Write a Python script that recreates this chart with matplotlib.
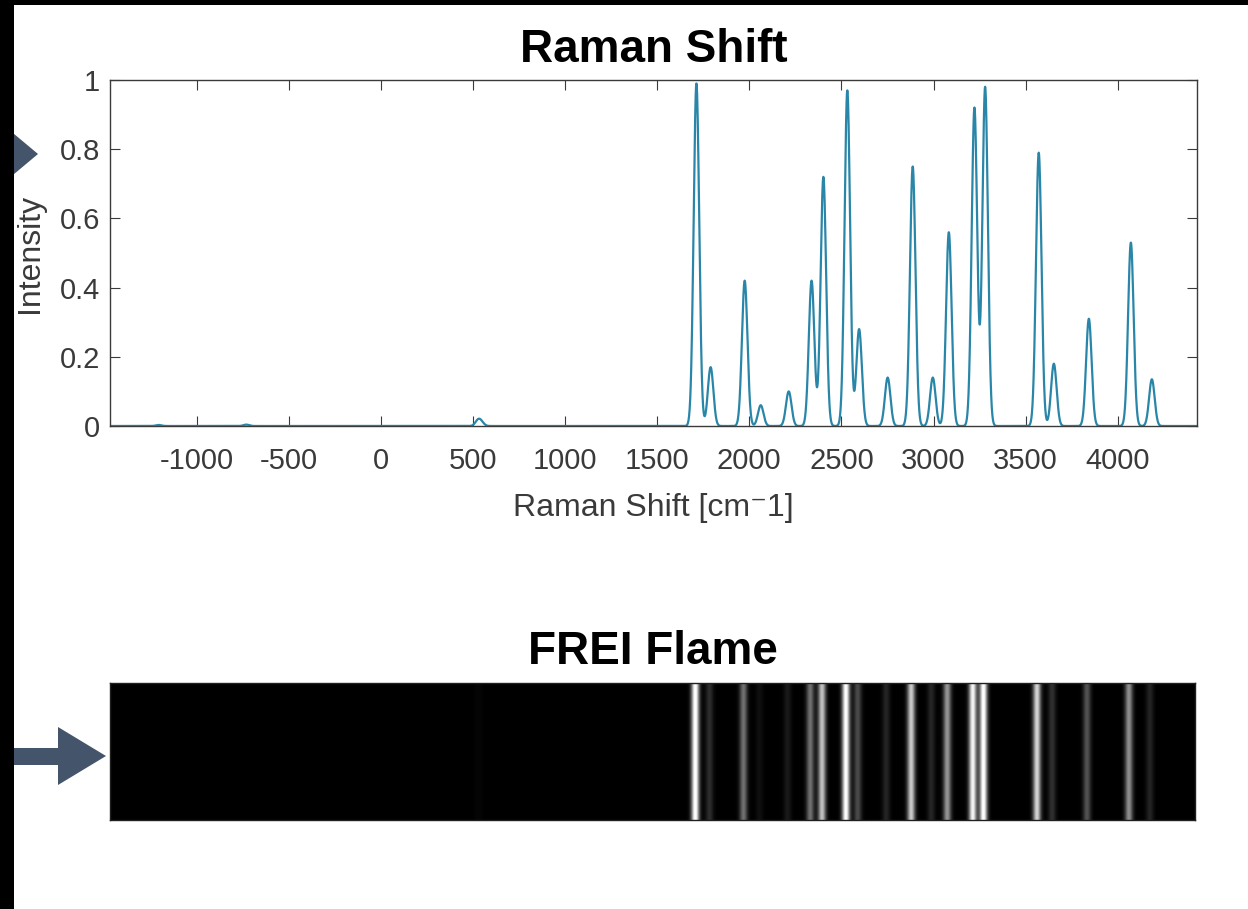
import numpy as np
import matplotlib
matplotlib.use("Agg")
import matplotlib.pyplot as plt
from matplotlib.patches import Polygon, Rectangle

plt.rcParams['font.family'] = ['Liberation Sans', 'DejaVu Sans']
plt.rcParams['axes.unicode_minus'] = False

# peak centres [cm^-1], heights and common width
peak_pos = [-1206, -730, 527, 545, 1713, 1790, 1975, 2062, 2214, 2338, 2402,
            2532, 2596, 2751, 2887, 2996, 3083, 3222, 3280, 3571, 3653,
            3843, 4071, 4185]
peak_height = [0.003, 0.004, 0.015, 0.01, 0.99, 0.17, 0.42, 0.06, 0.10, 0.42,
               0.72, 0.97, 0.28, 0.14, 0.75, 0.14, 0.56, 0.92, 0.98, 0.79,
               0.18, 0.31, 0.53, 0.135]
peak_sigma = 15.0
shift_range = (-1470, 4430)
x_ticks = [-1000, -500, 0, 500, 1000, 1500, 2000, 2500, 3000, 3500, 4000]
y_ticks = [0, 0.2, 0.4, 0.6, 0.8, 1]

W, H = 1248, 909
ARROW = '#44546A'
LINE = '#2a86a8'
SPINE = '#3a3a3a'


def spectrum(shift):
    out = np.zeros_like(shift)
    for c, h in zip(peak_pos, peak_height):
        out += h * np.exp(-(shift - c) ** 2 / (2 * peak_sigma ** 2))
    return out


def px_axes(fig, x0, y0, x1, y1):
    """Axes from pixel box (top-left origin)."""
    return fig.add_axes([x0 / W, 1 - y1 / H, (x1 - x0) / W, (y1 - y0) / H])


shift = np.arange(shift_range[0], shift_range[1] + 1, 1.0)
intensity = spectrum(shift)

fig = plt.figure(figsize=(W / 100, H / 100), dpi=100, facecolor='white')

# Raman spectrum
ax = px_axes(fig, 110, 80, 1197, 426)
ax.plot(shift, intensity, color=LINE, lw=1.6)
ax.set_xlim(*shift_range)
ax.set_ylim(0, 1)
ax.set_xticks(x_ticks)
ax.set_xticklabels([str(t) for t in x_ticks])
ax.set_yticks(y_ticks)
ax.set_yticklabels(['%g' % t for t in y_ticks])
ax.tick_params(direction='in', top=True, right=True, length=7, width=0.8,
               labelsize=21, colors=SPINE)
ax.tick_params(axis='x', pad=15)
ax.tick_params(axis='y', pad=7)
for s in ax.spines.values():
    s.set_color(SPINE)
    s.set_linewidth(1.0)
ax.set_title('Raman Shift', fontsize=33, fontweight='bold', pad=13)
ax.set_xlabel('Raman Shift [cm\u207b1]', fontsize=23, color=SPINE)
ax.set_ylabel('Intensity', fontsize=23, color=SPINE)
ax.xaxis.set_label_coords(0.5, -0.195)
ax.yaxis.set_label_coords(-0.06, 0.5)

# same spectrum shown as a flame image
ax2 = px_axes(fig, 110, 683, 1195, 820)
ax2.imshow(np.tile(intensity, (20, 1)), cmap='gray', vmin=0, vmax=0.95,
           aspect='auto', extent=(shift_range[0], shift_range[1], 0, 1),
           interpolation='bilinear')
ax2.set_xticks([])
ax2.set_yticks([])
for s in ax2.spines.values():
    s.set_color('#202020')
    s.set_linewidth(1.0)
ax2.set_title('FREI Flame', fontsize=33, fontweight='bold', pad=14)

# slide decorations: arrows and black screen edges
deco = fig.add_axes([0, 0, 1, 1], zorder=10)
deco.set_xlim(0, W)
deco.set_ylim(H, 0)
deco.axis('off')
deco.add_patch(Polygon([(-5, 118), (38, 154), (-5, 190)], color=ARROW, lw=0))
deco.add_patch(Rectangle((0, 748), 60, 17, color=ARROW, lw=0))
deco.add_patch(Polygon([(58, 727), (106, 756), (58, 785)], color=ARROW, lw=0))
deco.add_patch(Rectangle((0, 0), 14, H, color='black', lw=0))
deco.add_patch(Rectangle((0, 0), W, 5, color='black', lw=0))

fig.savefig('out.png', dpi=100, facecolor='white')
